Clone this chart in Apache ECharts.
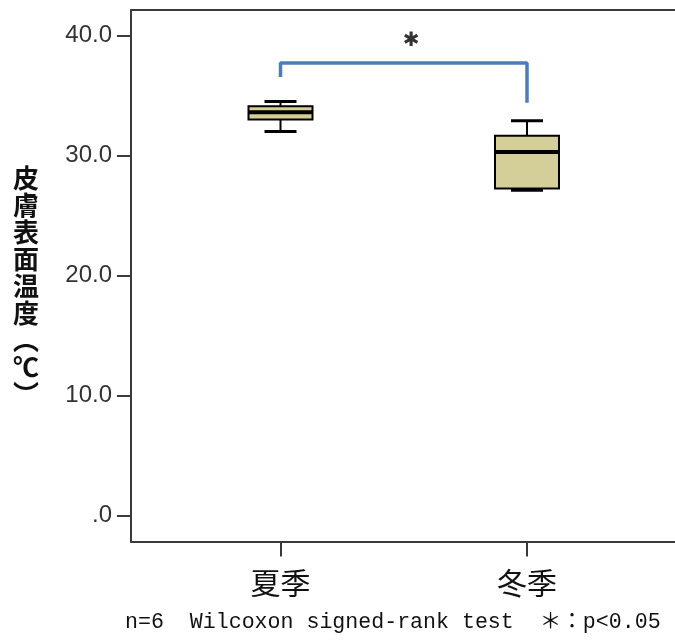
<!DOCTYPE html>
<html>
<head>
<meta charset="utf-8">
<script src="https://cdn.jsdelivr.net/npm/echarts@6/dist/echarts.min.js"></script>
<style>
  html, body { margin: 0; padding: 0; background: #fff; }
  #chart { width: 675px; height: 641px; }
</style>
</head>
<body>
<div id="chart"></div>
<script>
// Skin surface temperature by season (box summaries, °C)
const seasons = ['夏季', '冬季'];
const seasonPos = [1, 2];
const whiskerLow = [32.0, 27.1];
const quartile1 = [33.0, 27.25];
const medians = [33.6, 30.3];
const quartile3 = [34.1, 31.65];
const whiskerHigh = [34.5, 32.9];

const yTicks = [0, 10, 20, 30, 40];
const yTitleChars = ['皮', '膚', '表', '面', '温', '度', '︵', '℃', '︶'];

// significance bracket between the two seasons
const bracketPath = [[1, 36.55], [1, 37.7], [2, 37.7], [2, 34.4]];
const starPos = [[1.53, 39.6]];
const noteText = 'n=6  Wilcoxon signed-rank test  ＊：p<0.05';

const boxData = seasonPos.map((x, i) =>
  [x, whiskerLow[i], quartile1[i], medians[i], quartile3[i], whiskerHigh[i]]);

const chart = echarts.init(document.getElementById('chart'));

function renderBox(params, api) {
  const x = api.value(0);
  const pLow = api.coord([x, api.value(1)]);
  const pQ1 = api.coord([x, api.value(2)]);
  const pMed = api.coord([x, api.value(3)]);
  const pQ3 = api.coord([x, api.value(4)]);
  const pHigh = api.coord([x, api.value(5)]);
  const boxW = 64, capW = 32;
  const cx = pMed[0];
  const stroke = '#000';
  return {
    type: 'group',
    children: [
      { type: 'line', shape: { x1: cx, y1: pHigh[1], x2: cx, y2: pQ3[1] }, style: { stroke, lineWidth: 2 } },
      { type: 'line', shape: { x1: cx, y1: pQ1[1], x2: cx, y2: pLow[1] }, style: { stroke, lineWidth: 2 } },
      { type: 'line', shape: { x1: cx - capW / 2, y1: pHigh[1], x2: cx + capW / 2, y2: pHigh[1] }, style: { stroke, lineWidth: 3 } },
      { type: 'line', shape: { x1: cx - capW / 2, y1: pLow[1], x2: cx + capW / 2, y2: pLow[1] }, style: { stroke, lineWidth: 3 } },
      { type: 'rect', shape: { x: cx - boxW / 2, y: pQ3[1], width: boxW, height: pQ1[1] - pQ3[1] },
        style: { fill: '#d4cf98', stroke, lineWidth: 2 } },
      { type: 'line', shape: { x1: cx - boxW / 2, y1: pMed[1], x2: cx + boxW / 2, y2: pMed[1] }, style: { stroke, lineWidth: 4 } }
    ]
  };
}

const axisColor = '#3a3a3a';

chart.setOption({
  animation: false,
  backgroundColor: '#fff',
  grid: { left: 131, top: 10, right: 0, bottom: 99.4 },
  xAxis: [
    {
      type: 'value',
      min: 0.3935,
      max: 2.6004,
      splitLine: { show: false },
      axisLine: { show: true, onZero: false, lineStyle: { color: axisColor, width: 2 } },
      axisTick: { show: true, length: 15, customValues: seasonPos, lineStyle: { color: axisColor, width: 2 } },
      axisLabel: {
        customValues: seasonPos,
        formatter: v => seasons[seasonPos.indexOf(v)] || '',
        margin: 26,
        fontFamily: 'Noto Sans CJK JP',
        fontSize: 30,
        color: '#111'
      }
    },
    {
      // top frame line of the plot area
      type: 'value',
      position: 'top',
      min: 0.3935,
      max: 2.6004,
      splitLine: { show: false },
      axisLine: { show: true, onZero: false, lineStyle: { color: axisColor, width: 2 } },
      axisTick: { show: false },
      axisLabel: { show: false }
    }
  ],
  yAxis: {
    type: 'value',
    min: -2.175,
    max: 42.125,
    splitLine: { show: false },
    axisLine: { show: true, onZero: false, lineStyle: { color: axisColor, width: 2 } },
    axisTick: { show: true, length: 14, customValues: yTicks, lineStyle: { color: axisColor, width: 2 } },
    axisLabel: {
      customValues: yTicks,
      formatter: v => (v === 0 ? '.0' : v.toFixed(1)),
      margin: 19,
      fontFamily: 'Liberation Sans',
      fontSize: 24,
      color: '#333'
    }
  },
  graphic: [
    {
      type: 'text',
      left: 13,
      top: 165,
      style: {
        text: yTitleChars.join('\n'),
        fontFamily: 'Noto Sans CJK JP',
        fontWeight: 'bold',
        fontSize: 26,
        lineHeight: 27,
        fill: '#111',
        align: 'center'
      }
    },
    {
      type: 'text',
      left: 125,
      top: 611,
      style: {
        text: noteText,
        fontFamily: 'Liberation Mono, Noto Sans CJK JP',
        fontSize: 21.6,
        fill: '#111'
      }
    }
  ],
  series: [
    {
      type: 'custom',
      renderItem: renderBox,
      data: boxData,
      encode: { x: 0, y: [1, 2, 3, 4, 5] },
      z: 3
    },
    {
      type: 'line',
      data: bracketPath,
      symbol: 'none',
      lineStyle: { color: '#4a7ebb', width: 3.5 },
      z: 2
    },
    {
      type: 'scatter',
      data: starPos,
      symbolSize: 0,
      label: {
        show: true,
        position: 'inside',
        formatter: '✱',
        fontFamily: 'DejaVu Sans',
        fontSize: 20,
        color: '#000'
      }
    }
  ]
});
</script>
</body>
</html>
